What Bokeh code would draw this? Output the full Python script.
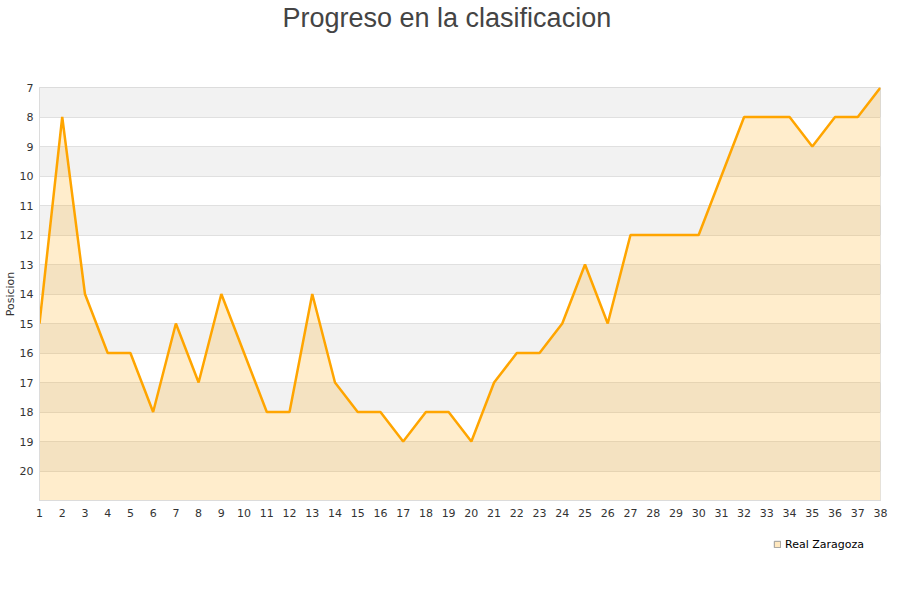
from bokeh.embed import file_html
from bokeh.layouts import column
from bokeh.models import FixedTicker, Legend, LegendItem, Range1d, Title
from bokeh.plotting import figure
from bokeh.resources import INLINE

jornadas = list(range(1, 39))
posicion = [15, 8, 14, 16, 16, 18, 15, 17, 14, 16,
            18, 18, 14, 17, 18, 18, 19, 18, 18, 19,
            17, 16, 16, 15, 13, 15, 12, 12, 12, 12,
            10, 8, 8, 8, 9, 8, 8, 7]
y_ticks = list(range(7, 22))
equipo = "Real Zaragoza"
titulo = "Progreso en la clasificacion"

ORANGE = "#ffa500"
FONT = "DejaVu Sans"
y_bottom = 21

p = figure(width=892, height=530, output_backend="svg", toolbar_location=None,
           x_range=Range1d(1, 38), y_range=Range1d(y_bottom, 7),
           min_border_left=32, min_border_right=12, min_border_top=86,
           min_border_bottom=30, title=None)
# spacer between frame and title, then the title itself
p.add_layout(Title(text=" ", text_font_size="10px", standoff=42), "above")
p.add_layout(Title(text=titulo, text_font="Liberation Sans", text_font_size="27px",
                   text_font_style="normal", text_color="#444444",
                   align="left", offset=243, standoff=0), "above")
p.outline_line_color = "#dcdcdc"
# grey background, white bands -> grey starts at the top row (7-8)
p.background_fill_color = "#f2f2f2"

p.varea(x=jornadas, y1=posicion, y2=y_bottom, fill_color=ORANGE, fill_alpha=0.2)
p.line(jornadas, posicion, line_color=ORANGE, line_width=2.5)

p.xaxis.ticker = FixedTicker(ticks=jornadas)
p.yaxis.ticker = FixedTicker(ticks=y_ticks)
p.yaxis.major_label_overrides = {21: ""}
p.yaxis.axis_label = "Posicion"
for ax in (p.xaxis[0], p.yaxis[0]):
    ax.major_tick_line_color = None
    ax.minor_tick_line_color = None
    ax.major_tick_out = 0
    ax.axis_line_color = "#dcdcdc"
    ax.major_label_text_font = FONT
    ax.major_label_text_font_size = "11px"
    ax.major_label_text_color = "#333333"
    ax.major_label_standoff = 6
p.xaxis.major_label_standoff = 8
p.yaxis.axis_label_text_font = FONT
p.yaxis.axis_label_text_font_size = "11px"
p.yaxis.axis_label_text_font_style = "normal"
p.yaxis.axis_label_text_color = "#333333"
p.yaxis.axis_label_standoff = 0

p.xgrid.grid_line_color = None
p.ygrid.grid_line_color = "#e0e0e0"
p.ygrid.band_fill_color = "white"
p.ygrid.band_fill_alpha = 1.0

# legend strip below the chart (its frame lines up with the chart's frame)
pl = figure(width=892, height=54, output_backend="svg", toolbar_location=None,
            x_range=Range1d(0, 1), y_range=Range1d(0, 1),
            x_axis_location=None, y_axis_location=None,
            min_border=0, outline_line_color=None)
pl.grid.visible = False
nan = float("nan")
swatch = pl.quad(left=[nan], right=[nan], top=[nan], bottom=[nan], fill_color=ORANGE,
                 fill_alpha=0.25, line_color="#999999", line_width=1)
legend = Legend(items=[LegendItem(label=equipo, renderers=[swatch])],
                location=(734, 33), orientation="horizontal",
                glyph_width=8, glyph_height=8, label_height=14, label_standoff=4,
                padding=0, margin=0, border_line_alpha=0, background_fill_alpha=0,
                label_text_font=FONT, label_text_font_size="11px",
                label_text_color="#000000")
pl.add_layout(legend)

layout = column(p, pl, spacing=0)
open("out.html", "w").write(file_html(layout, INLINE))
